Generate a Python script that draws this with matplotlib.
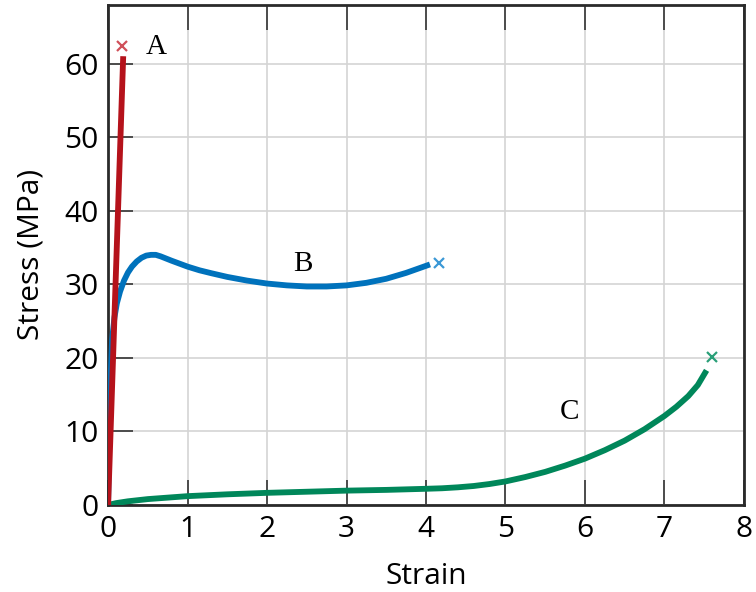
import matplotlib.pyplot as plt

# curve A (brittle)
a_strain = [0.0, 0.19]
a_stress = [0.0, 61.0]
a_break = (0.18, 62.4)

# curve B (ductile with yield peak)
b_strain = [0.0, 0.02, 0.05, 0.08, 0.11, 0.15, 0.2, 0.25, 0.3, 0.36, 0.42, 0.48,
            0.54, 0.6, 0.66, 0.73, 0.8, 0.9, 1.0, 1.15, 1.3, 1.5, 1.75, 2.0, 2.25,
            2.5, 2.75, 3.0, 3.25, 3.5, 3.75, 4.05]
b_stress = [0.0, 14.0, 22.5, 25.5, 27.4, 29.0, 30.5, 31.6, 32.4, 33.1, 33.6, 33.9,
            34.0, 34.0, 33.8, 33.5, 33.2, 32.8, 32.4, 31.9, 31.5, 31.0, 30.5, 30.1, 29.85,
            29.7, 29.7, 29.85, 30.2, 30.75, 31.55, 32.7]
b_break = (4.16, 32.9)

# curve C (elastomer)
c_strain = [0.0, 0.1, 0.25, 0.5, 0.75, 1.0, 1.5, 2.0, 2.5, 3.0, 3.5, 4.0, 4.2, 4.4,
            4.6, 4.8, 5.0, 5.25, 5.5, 5.75, 6.0, 6.25, 6.5, 6.75, 7.0, 7.15, 7.3, 7.42, 7.53]
c_stress = [0.0, 0.25, 0.5, 0.8, 1.0, 1.2, 1.45, 1.65, 1.8, 1.95, 2.05, 2.2, 2.27, 2.4,
            2.58, 2.85, 3.2, 3.8, 4.5, 5.35, 6.3, 7.45, 8.75, 10.3, 12.1, 13.35, 14.8, 16.3, 18.3]
c_break = (7.6, 20.1)

labels = ['A', 'B', 'C']
label_pos = [(0.6, 62.3), (2.45, 32.8), (5.8, 12.7)]

plt.rcParams['font.family'] = ['Open Sans', 'DejaVu Sans']

fig = plt.figure(figsize=(7.56, 5.92), dpi=100)
ax = fig.add_axes([0.143, 0.147, 0.841, 0.845])

kw = dict(lw=4.2, solid_capstyle='butt', solid_joinstyle='round')
ax.plot(c_strain, c_stress, color='#00875a', zorder=3, **kw)
ax.plot(b_strain, b_stress, color='#0072bc', zorder=3, **kw)
ax.plot(a_strain, a_stress, color='#b5121b', zorder=4, **kw)

ax.plot(*a_break, marker='x', color='#d0505a', ms=6.5, mew=1.6, zorder=5)
ax.plot(*b_break, marker='x', color='#3b98d6', ms=6.5, mew=1.6, zorder=5)
ax.plot(*c_break, marker='x', color='#2a9f78', ms=6.5, mew=1.6, zorder=5)

for lab, (x, y) in zip(labels, label_pos):
    ax.text(x, y, lab, family='Liberation Serif', fontsize=21,
            ha='center', va='center')

ax.set_xlim(0, 8)
ax.set_ylim(0, 68)
ax.set_xticks(range(0, 9))
ax.set_yticks(range(0, 70, 10))
ax.grid(True, color='#d4d4d4', lw=1.2)
ax.set_axisbelow(True)

ax.tick_params(direction='in', length=18, width=1.2, color='#333333',
               labelsize=21.5, top=True, right=False, pad=7)
for s in ax.spines.values():
    s.set_linewidth(2)
    s.set_color('#2a2a2a')

ax.set_xlabel('Strain', fontsize=21.5, labelpad=13)
ax.set_ylabel('Stress (MPa)', fontsize=21.5, labelpad=13)

fig.savefig('out.png', dpi=100)
